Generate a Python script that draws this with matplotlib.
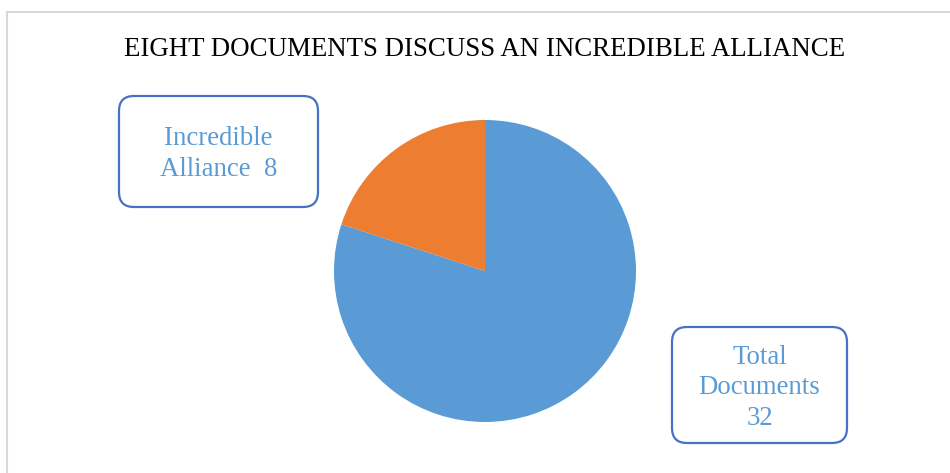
import matplotlib
matplotlib.use("Agg")
import matplotlib.pyplot as plt
from matplotlib.patches import FancyBboxPatch, Rectangle
from matplotlib.transforms import IdentityTransform

plt.rcParams['font.family'] = ['Liberation Serif', 'DejaVu Serif']

title = "EIGHT DOCUMENTS DISCUSS AN INCREDIBLE ALLIANCE"
categories = ["Total Documents", "Incredible Alliance"]
values = [32, 8]
label_texts = ["Total\nDocuments\n32", "Incredible\nAlliance  8"]
colors = ["#5B9BD5", "#ED7D31"]

W, H = 950, 473
fig = plt.figure(figsize=(W / 100, H / 100), dpi=100)

def fx(x):
    return x / W

def fy(y):
    return 1 - y / H

# outer chart border
fig.patches.append(Rectangle((fx(6.5), fy(480)), fx(960) - fx(6.5), fy(11.5) - fy(480),
                             transform=fig.transFigure, fill=False,
                             edgecolor="#D9D9D9", linewidth=1.5, clip_on=False))

# pie
cx, cy, r = 485, 271, 151
ax = fig.add_axes([fx(cx - r), fy(cy + r), 2 * r / W, 2 * r / H])
ax.pie(values, colors=colors, startangle=90, counterclock=False,
       wedgeprops=dict(linewidth=0))
ax.set_xlim(-1, 1)
ax.set_ylim(-1, 1)
ax.set_aspect("equal")
ax.axis("off")

fig.text(fx(485), fy(49), title, ha="center", va="center", fontsize=19.4, color="black")

# label boxes (pixel coordinates: x0, y0_top, x1, y1_bottom)
boxes = [(672, 327, 847, 443), (119, 96, 318, 207)]
centers_y = [388, 154]
for (x0, y0, x1, y1), cyy, txt in zip(boxes, centers_y, label_texts):
    p = FancyBboxPatch((x0, H - y1), x1 - x0, y1 - y0,
                       boxstyle="round,pad=0,rounding_size=15",
                       transform=IdentityTransform(), fill=True, facecolor="white",
                       edgecolor="#4472C4", linewidth=1.6)
    fig.patches.append(p)
    fig.text(fx((x0 + x1) / 2), fy(cyy), txt, ha="center", va="center",
             fontsize=19.3, color="#5B9BD5", linespacing=1.3)

fig.savefig("out.png", dpi=100)
